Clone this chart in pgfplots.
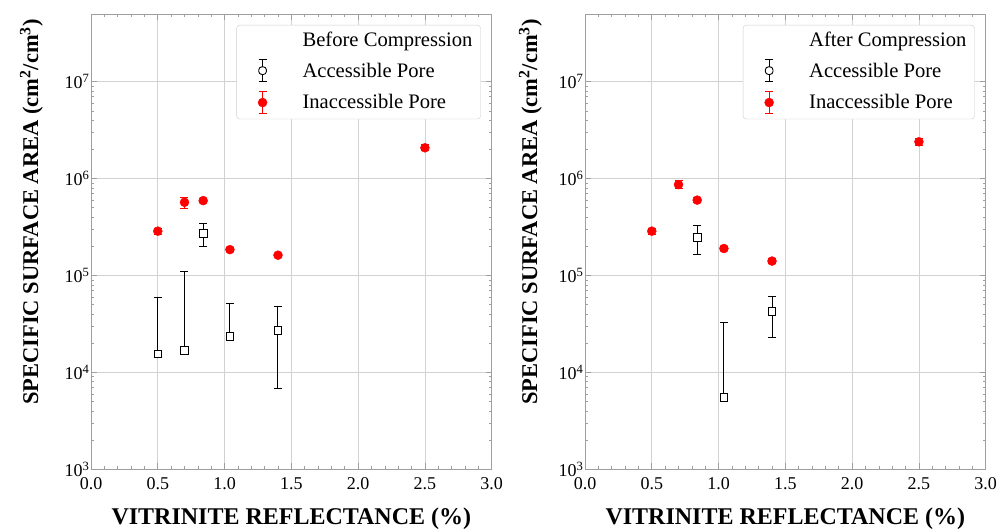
\documentclass[border=0pt]{standalone}
\usepackage{fontspec}
\setmainfont{Liberation Serif}
\usepackage{pgfplots}
\pgfplotsset{compat=1.18}

\begin{document}
\begin{tikzpicture}
\begin{axis}[
  scale only axis, width=400.7pt, height=455.3pt,
  xmin=0, xmax=3, ymin=1e3, ymax=5e7, ymode=log,
  xtick={0,0.5,1,1.5,2,2.5,3},
  xticklabels={0.0,0.5,1.0,1.5,2.0,2.5,3.0},
  minor x tick num=4,
  ytick={1e3,1e4,1e5,1e6,1e7},
  yticklabels={10\textsuperscript{3},10\textsuperscript{4},10\textsuperscript{5},10\textsuperscript{6},10\textsuperscript{7}},
  tick label style={font=\fontsize{18}{18}\selectfont, black},
  xticklabel style={yshift=-5pt},
  yticklabel style={xshift=2pt},
  axis line style={gray!75, line width=0.8pt},
  tick style={gray!75, line width=0.7pt},
  tick align=inside, tick pos=both,
  major tick length=6pt, minor tick length=3pt,
  grid=major, major grid style={gray!35, line width=0.7pt},
  xlabel={VITRINITE REFLECTANCE (\%)},
  ylabel={SPECIFIC SURFACE AREA (cm\textsuperscript{2}/cm\textsuperscript{3})},
  label style={font=\fontsize{24}{24}\selectfont\bfseries},
  xlabel style={at={(axis description cs:0.5,0)}, anchor=north, inner sep=0pt, yshift=-38pt},
  ylabel style={font=\fontsize{22.5}{24}\selectfont\bfseries, at={(axis description cs:0,0.565)}, rotate=0, anchor=south, inner sep=0pt, yshift=48pt},
  legend style={font=\fontsize{20.6}{22}\selectfont, at={(1,1)}, anchor=north east,
     xshift=-11pt, yshift=-11pt, draw=gray!40, rounded corners=3pt,
     row sep=9pt, inner xsep=6pt, inner ysep=5pt},
  legend cell align=left,
]
\addlegendimage{legend image code/.code={\path[draw=none] (0pt,0pt) -- (58pt,0pt);}}
\addlegendentry{Before Compression}
\addlegendimage{legend image code/.code={
   \path[draw=none] (0pt,0pt) -- (58pt,0pt);
   \draw[black, line width=0.9pt] (20pt,-11pt)--(20pt,11pt)
     (16pt,-11pt)--(24pt,-11pt) (16pt,11pt)--(24pt,11pt);
   \draw[black, fill=white, line width=0.9pt] (16.2pt,-3.8pt) rectangle (23.8pt,3.8pt);}}
\addlegendentry{Accessible Pore}
\addlegendimage{legend image code/.code={
   \path[draw=none] (0pt,0pt) -- (58pt,0pt);
   \draw[red, line width=0.9pt] (20pt,-11pt)--(20pt,11pt)
     (16pt,-11pt)--(24pt,-11pt) (16pt,11pt)--(24pt,11pt);
   \fill[red] (20pt,0pt) circle (4.5pt);}}
\addlegendentry{Inaccessible Pore}
\addplot[forget plot, black, only marks, mark=square*, mark size=3.8pt,
   mark options={fill=white, draw=black, line width=0.9pt},
   error bars/.cd, y dir=plus, y explicit,
   error bar style={black, line width=1pt},
   error mark options={rotate=90, black, mark size=4pt, line width=1pt}] coordinates {
 (0.50,1.55e4) +- (0,4.45e4)
 (0.70,1.69e4) +- (0,9.3e4)
 (1.04,2.36e4) +- (0,2.81e4)
};
\addplot[forget plot, black, only marks, mark=square*, mark size=3.8pt,
   mark options={fill=white, draw=black, line width=0.9pt},
   error bars/.cd, y dir=both, y explicit,
   error bar style={black, line width=1pt},
   error mark options={rotate=90, black, mark size=4pt, line width=1pt}] coordinates {
 (0.84,2.70e5) += (0,0.77e5) -= (0,0.72e5)
 (1.40,2.72e4) += (0,2.06e4) -= (0,2.04e4)
};
\addplot[forget plot, red, only marks, mark=*, mark size=4.5pt,
   mark options={fill=red, draw=red},
   error bars/.cd, y dir=both, y explicit,
   error bar style={red, line width=1pt},
   error mark options={rotate=90, red, mark size=4pt, line width=1pt}] coordinates {
 (0.50,2.87e5) +- (0,0.2e5)
 (0.70,5.70e5) +- (0,0.75e5)
 (0.84,5.93e5) +- (0,0.3e5)
 (1.04,1.85e5) +- (0,0.1e5)
 (1.40,1.62e5) +- (0,0.08e5)
 (2.50,2.08e6) +- (0,0.15e6)
};
\end{axis}
\begin{axis}[xshift=494pt,
  scale only axis, width=400.7pt, height=455.3pt,
  xmin=0, xmax=3, ymin=1e3, ymax=5e7, ymode=log,
  xtick={0,0.5,1,1.5,2,2.5,3},
  xticklabels={0.0,0.5,1.0,1.5,2.0,2.5,3.0},
  minor x tick num=4,
  ytick={1e3,1e4,1e5,1e6,1e7},
  yticklabels={10\textsuperscript{3},10\textsuperscript{4},10\textsuperscript{5},10\textsuperscript{6},10\textsuperscript{7}},
  tick label style={font=\fontsize{18}{18}\selectfont, black},
  xticklabel style={yshift=-5pt},
  yticklabel style={xshift=2pt},
  axis line style={gray!75, line width=0.8pt},
  tick style={gray!75, line width=0.7pt},
  tick align=inside, tick pos=both,
  major tick length=6pt, minor tick length=3pt,
  grid=major, major grid style={gray!35, line width=0.7pt},
  xlabel={VITRINITE REFLECTANCE (\%)},
  ylabel={SPECIFIC SURFACE AREA (cm\textsuperscript{2}/cm\textsuperscript{3})},
  label style={font=\fontsize{24}{24}\selectfont\bfseries},
  xlabel style={at={(axis description cs:0.5,0)}, anchor=north, inner sep=0pt, yshift=-38pt},
  ylabel style={font=\fontsize{22.5}{24}\selectfont\bfseries, at={(axis description cs:0,0.565)}, rotate=0, anchor=south, inner sep=0pt, yshift=43pt},
  legend style={font=\fontsize{20.6}{22}\selectfont, at={(1,1)}, anchor=north east,
     xshift=-11pt, yshift=-11pt, draw=gray!40, rounded corners=3pt,
     row sep=9pt, inner xsep=6pt, inner ysep=5pt},
  legend cell align=left,
]
\addlegendimage{legend image code/.code={\path[draw=none] (0pt,0pt) -- (58pt,0pt);}}
\addlegendentry{After Compression}
\addlegendimage{legend image code/.code={
   \path[draw=none] (0pt,0pt) -- (58pt,0pt);
   \draw[black, line width=0.9pt] (20pt,-11pt)--(20pt,11pt)
     (16pt,-11pt)--(24pt,-11pt) (16pt,11pt)--(24pt,11pt);
   \draw[black, fill=white, line width=0.9pt] (16.2pt,-3.8pt) rectangle (23.8pt,3.8pt);}}
\addlegendentry{Accessible Pore}
\addlegendimage{legend image code/.code={
   \path[draw=none] (0pt,0pt) -- (58pt,0pt);
   \draw[red, line width=0.9pt] (20pt,-11pt)--(20pt,11pt)
     (16pt,-11pt)--(24pt,-11pt) (16pt,11pt)--(24pt,11pt);
   \fill[red] (20pt,0pt) circle (4.5pt);}}
\addlegendentry{Inaccessible Pore}
\addplot[forget plot, black, only marks, mark=square*, mark size=3.8pt,
   mark options={fill=white, draw=black, line width=0.9pt},
   error bars/.cd, y dir=plus, y explicit,
   error bar style={black, line width=1pt},
   error mark options={rotate=90, black, mark size=4pt, line width=1pt}] coordinates {
 (1.04,5.5e3) +- (0,2.74e4)
};
\addplot[forget plot, black, only marks, mark=square*, mark size=3.8pt,
   mark options={fill=white, draw=black, line width=0.9pt},
   error bars/.cd, y dir=both, y explicit,
   error bar style={black, line width=1pt},
   error mark options={rotate=90, black, mark size=4pt, line width=1pt}] coordinates {
 (0.84,2.48e5) += (0,0.82e5) -= (0,0.84e5)
 (1.40,4.27e4) += (0,1.87e4) -= (0,1.98e4)
};
\addplot[forget plot, red, only marks, mark=*, mark size=4.5pt,
   mark options={fill=red, draw=red},
   error bars/.cd, y dir=both, y explicit,
   error bar style={red, line width=1pt},
   error mark options={rotate=90, red, mark size=4pt, line width=1pt}] coordinates {
 (0.50,2.87e5) +- (0,0.2e5)
 (0.70,8.67e5) +- (0,0.8e5)
 (0.84,6.00e5) +- (0,0.35e5)
 (1.04,1.90e5) +- (0,0.1e5)
 (1.40,1.41e5) +- (0,0.08e5)
 (2.50,2.40e6) +- (0,0.2e6)
};
\end{axis}
\pgfresetboundingbox
\path (-91pt,-61.7pt) rectangle (917pt,469.3pt);
\end{tikzpicture}
\end{document}
